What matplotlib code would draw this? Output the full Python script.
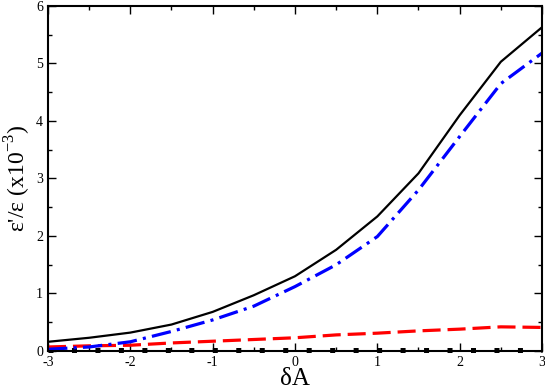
import matplotlib
matplotlib.use("Agg")
import matplotlib.pyplot as plt
from matplotlib.ticker import MultipleLocator

# Data
dA = [-3, -2.5, -2, -1.5, -1, -0.5, 0, 0.5, 1, 1.5, 2, 2.5, 3]
total = [0.16, 0.23, 0.32, 0.46, 0.68, 0.97, 1.30, 1.76, 2.34, 3.09, 4.10, 5.03, 5.63]
dashdot = [0.03, 0.07, 0.16, 0.34, 0.54, 0.78, 1.12, 1.50, 1.99, 2.80, 3.73, 4.65, 5.18]
dashed = [0.07, 0.09, 0.10, 0.14, 0.17, 0.20, 0.23, 0.28, 0.31, 0.35, 0.38, 0.42, 0.41]
dotted = [0.02] * len(dA)

plt.rcParams["font.family"] = ["Liberation Serif", "DejaVu Serif"]
plt.rcParams["mathtext.fontset"] = "custom"
plt.rcParams["mathtext.rm"] = "Liberation Serif"
plt.rcParams["axes.unicode_minus"] = False
plt.rcParams["lines.scale_dashes"] = False

fig = plt.figure(figsize=(5.45, 3.91), dpi=100)
ax = fig.add_axes([0.088, 0.1023, 0.9065, 0.8824])

ax.plot(dA, dotted, color="black", lw=3.6, dashes=[3.6, 13.3], dash_capstyle="butt", clip_on=False)
ax.plot(dA, dashed, color="red", lw=2.3, dashes=[13, 5], dash_capstyle="butt")
ax.plot(dA, dashdot, color="blue", lw=2.3, dashes=[14, 4.5, 2.2, 4.5], dash_capstyle="butt")
ax.plot(dA, total, color="black", lw=1.6)

ax.set_xlim(-3, 3)
ax.set_ylim(0, 6)
ax.xaxis.set_major_locator(MultipleLocator(1))
ax.xaxis.set_minor_locator(MultipleLocator(0.5))
ax.yaxis.set_major_locator(MultipleLocator(1))
ax.yaxis.set_minor_locator(MultipleLocator(0.5))
ax.tick_params(which="both", direction="in", top=True, right=True, labelsize=10, width=1)
ax.tick_params(which="major", length=6)
ax.tick_params(which="minor", length=3)
for s in ax.spines.values():
    s.set_linewidth(1.5)

ax.set_xlabel("δA", fontsize=18)
ax.xaxis.set_label_coords(0.5, -0.05)
ax.set_ylabel("ε'/ε (x10$^{\\mathregular{-3}}$)", fontsize=17)
ax.yaxis.set_label_coords(-0.03, 0.5)

fig.savefig("out.png", dpi=100)
